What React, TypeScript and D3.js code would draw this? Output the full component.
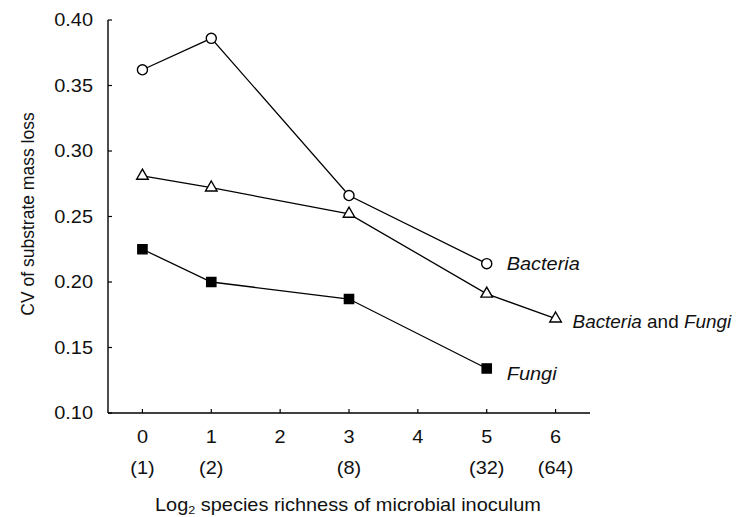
import React from 'react';
import * as d3 from 'd3';

const richness = [0, 1, 3, 5, 6];
const richnessLabels = ['(1)', '(2)', '(8)', '(32)', '(64)'];
const xTicks = [0, 1, 2, 3, 4, 5, 6];
const yTicks = [0.1, 0.15, 0.2, 0.25, 0.3, 0.35, 0.4];

const bacteriaX = [0, 1, 3, 5];
const bacteriaCV = [0.362, 0.386, 0.266, 0.214];
const bothX = [0, 1, 3, 5, 6];
const bothCV = [0.281, 0.272, 0.252, 0.191, 0.172];
const fungiX = [0, 1, 3, 5];
const fungiCV = [0.225, 0.2, 0.187, 0.134];

const width = 741;
const height = 517;
const font = '"Liberation Sans", Arial, sans-serif';
// the original figure is a bit stretched sideways
const stretch = 1.14;

const Txt: React.FC<{
  x: number;
  y: number;
  anchor?: string;
  italic?: boolean;
  sx?: number;
  children: React.ReactNode;
}> = ({ x, y, anchor = 'start', italic, sx = stretch, children }) => (
  <g transform={`translate(${x},${y}) scale(${sx},1)`}>
    <text textAnchor={anchor} fontStyle={italic ? 'italic' : 'normal'} fill="#111">
      {children}
    </text>
  </g>
);

const App: React.FC = () => {
  const x = d3.scaleLinear().domain([-0.5, 6.5]).range([108, 590]);
  const y = d3.scaleLinear().domain([0.1, 0.4]).range([413, 20]);

  const line = d3
    .line<[number, number]>()
    .x((d) => x(d[0]))
    .y((d) => y(d[1]));

  const series = [
    { name: 'bacteria', xs: bacteriaX, vs: bacteriaCV, symbol: d3.symbolCircle, size: 80, fill: '#fff' },
    { name: 'both', xs: bothX, vs: bothCV, symbol: d3.symbolTriangle, size: 58, fill: '#fff' },
    { name: 'fungi', xs: fungiX, vs: fungiCV, symbol: d3.symbolSquare, size: 85, fill: '#000' },
  ];

  const last = (xs: number[], vs: number[]) => [x(xs[xs.length - 1]), y(vs[vs.length - 1])];
  const [bx, by] = last(bacteriaX, bacteriaCV);
  const [tx, ty] = last(bothX, bothCV);
  const [fx, fy] = last(fungiX, fungiCV);

  return (
    <svg
      width={width}
      height={height}
      style={{ position: 'absolute', left: 0, top: 0, background: '#fff' }}
      fontFamily={font}
      fontSize={17.5}
    >
      <rect width={width} height={height} fill="#fff" />
      {/* axes */}
      <line x1={x(-0.5)} x2={x(-0.5)} y1={y(0.4)} y2={y(0.1)} stroke="#000" strokeWidth={1.4} />
      <line x1={x(-0.5)} x2={x(6.5)} y1={y(0.1)} y2={y(0.1)} stroke="#000" strokeWidth={1.4} />
      {yTicks.map((t) => (
        <g key={t}>
          <line x1={x(-0.5)} x2={x(-0.5) + 4} y1={y(t)} y2={y(t)} stroke="#000" strokeWidth={1.2} />
          <Txt x={93} y={y(t) + 6} anchor="end">
            {t.toFixed(2)}
          </Txt>
        </g>
      ))}
      {xTicks.map((t) => (
        <g key={t}>
          <line x1={x(t)} x2={x(t)} y1={y(0.1)} y2={y(0.1) - 4} stroke="#000" strokeWidth={1.2} />
          <Txt x={x(t)} y={443} anchor="middle">
            {t}
          </Txt>
        </g>
      ))}
      {richness.map((r, i) => (
        <Txt key={r} x={x(r)} y={474} anchor="middle">
          {richnessLabels[i]}
        </Txt>
      ))}
      <Txt x={155} y={511}>
        <tspan>Log</tspan>
        <tspan fontSize={11} dy={3}>2</tspan>
        <tspan dy={-3}> species richness of microbial inoculum</tspan>
      </Txt>
      <text transform="translate(34,214) rotate(-90)" textAnchor="middle" fill="#111">
        CV of substrate mass loss
      </text>

      {/* series */}
      {series.map((s) => {
        const pts = s.xs.map((v, i) => [v, s.vs[i]] as [number, number]);
        const sym = d3.symbol().type(s.symbol).size(s.size)();
        return (
          <g key={s.name}>
            <path d={line(pts) || ''} fill="none" stroke="#000" strokeWidth={1.3} />
            {pts.map((p, i) => (
              <path
                key={i}
                d={sym || ''}
                transform={`translate(${x(p[0])},${y(p[1])})`}
                fill={s.fill}
                stroke="#000"
                strokeWidth={1.4}
              />
            ))}
          </g>
        );
      })}

      {/* series labels */}
      <Txt x={bx + 20} y={by + 6} italic>
        Bacteria
      </Txt>
      <Txt x={tx + 17} y={ty + 9} sx={1.08}>
        <tspan fontStyle="italic">Bacteria</tspan> and <tspan fontStyle="italic">Fungi</tspan>
      </Txt>
      <Txt x={fx + 20} y={fy + 12} italic>
        Fungi
      </Txt>
    </svg>
  );
};

export default App;
